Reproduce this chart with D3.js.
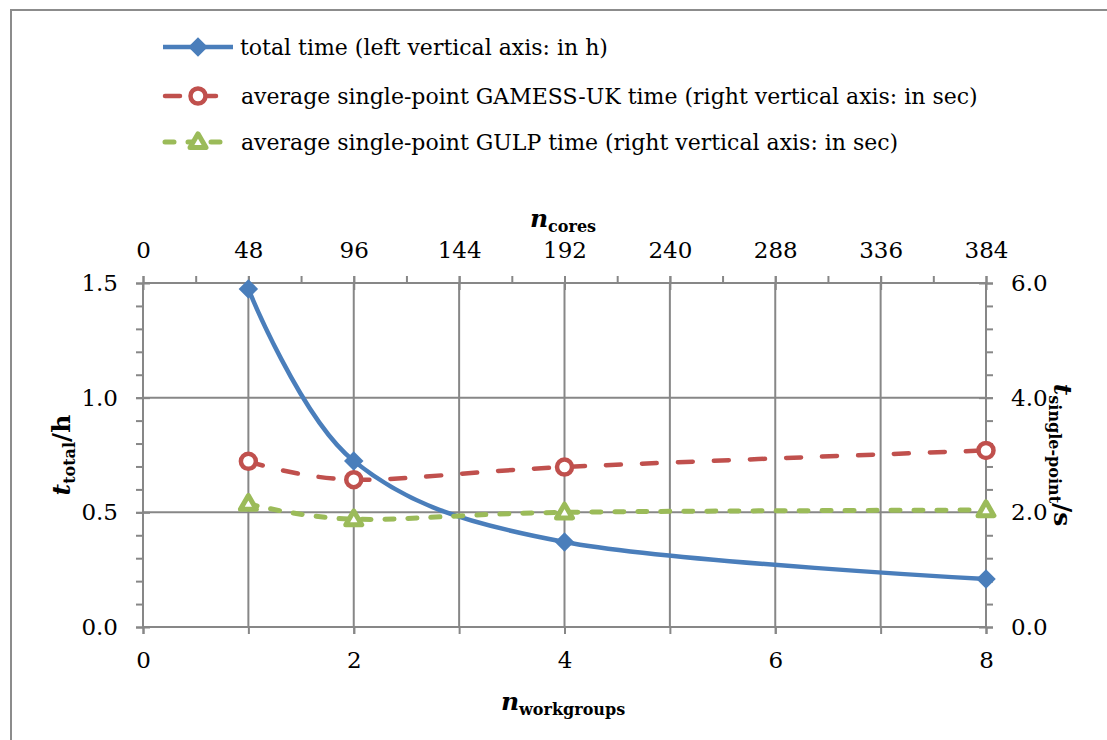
<!DOCTYPE html>
<html><head><meta charset="utf-8">
<script src="https://cdn.jsdelivr.net/npm/d3@7"></script>
<style>
body{margin:0;background:#fff;}
svg{display:block;font-family:"DejaVu Serif",serif;}
</style></head>
<body><svg id="c" width="1107" height="740"></svg>
<script>
// ---- data ----
const workgroups = [1, 2, 4, 8];
const totalTime = [1.474, 0.724, 0.371, 0.209];      // h (left axis)
const gamessTime = [2.89, 2.57, 2.79, 3.08];          // s (right axis)
const gulpTime = [2.15, 1.88, 2.00, 2.04];            // s (right axis)
const bottomTicks = [0, 2, 4, 6, 8];
const topTicks = [0, 48, 96, 144, 192, 240, 288, 336, 384];
const leftTicks = [0.0, 0.5, 1.0, 1.5];
const rightTicks = [0.0, 2.0, 4.0, 6.0];
const legendLabels = [
  "total time (left vertical axis: in h)",
  "average single-point GAMESS-UK time (right vertical axis: in sec)",
  "average single-point GULP time (right vertical axis: in sec)"
];

const svg = d3.select("#c");
const L = 143, R = 986, T = 283, B = 627;
const grid = "#878787";
const cBlue = "#4a7ebb", cRed = "#c0504d", cGreen = "#9bbb59";

const x = d3.scaleLinear().domain([0, 8]).range([L, R]);
const xTop = d3.scaleLinear().domain([0, 384]).range([L, R]);
const yL = d3.scaleLinear().domain([0, 1.5]).range([B, T]);
const yR = d3.scaleLinear().domain([0, 6]).range([B, T]);

// border
svg.append("path").attr("d", `M11,740 V10 H1107`).attr("fill","none").attr("stroke","#8c8c8c").attr("stroke-width",2);

// gridlines
const g = svg.append("g");
g.selectAll(".vg").data(d3.range(0, 9)).join("line")
  .attr("x1", d=>x(d)).attr("x2", d=>x(d)).attr("y1", T).attr("y2", B)
  .attr("stroke", grid).attr("stroke-width", 2);
g.selectAll(".hg").data(leftTicks).join("line")
  .attr("x1", L).attr("x2", R).attr("y1", d=>yL(d)).attr("y2", d=>yL(d))
  .attr("stroke", grid).attr("stroke-width", 2);

function styleAxis(sel){
  sel.select(".domain").remove();
  sel.selectAll(".tick line").attr("stroke", grid).attr("stroke-width", 2);
  sel.selectAll("text").attr("font-family","DejaVu Serif").attr("font-size",23).attr("fill","#000");
}
// left
svg.append("g").attr("transform",`translate(${L},0)`)
  .call(d3.axisLeft(yL).tickValues(d3.range(0,16).map(i=>i/10)).tickSize(7).tickFormat(""))
  .call(styleAxis);
svg.append("g").attr("transform",`translate(${L},0)`)
  .call(d3.axisLeft(yL).tickValues(leftTicks).tickSizeInner(7).tickSizeOuter(0).tickPadding(18).tickFormat(d3.format(".1f")))
  .call(styleAxis)
  .call(s=>s.selectAll(".tick line").attr("x2",-7).attr("x1",7));
// right
svg.append("g").attr("transform",`translate(${R},0)`)
  .call(d3.axisRight(yR).tickValues(d3.range(0,16).map(i=>i*0.4)).tickSize(7).tickFormat(""))
  .call(styleAxis);
svg.append("g").attr("transform",`translate(${R},0)`)
  .call(d3.axisRight(yR).tickValues(rightTicks).tickSizeInner(7).tickSizeOuter(0).tickPadding(18).tickFormat(d3.format(".1f")))
  .call(styleAxis)
  .call(s=>s.selectAll(".tick line").attr("x2",7).attr("x1",-7));
// bottom
svg.append("g").attr("transform",`translate(0,${B})`)
  .call(d3.axisBottom(x).tickValues(d3.range(0,9)).tickSize(7).tickFormat(""))
  .call(styleAxis);
svg.append("g").attr("transform",`translate(0,${B})`)
  .call(d3.axisBottom(x).tickValues(bottomTicks).tickSize(7).tickPadding(18).tickFormat(d3.format("d")))
  .call(styleAxis);
// top
svg.append("g").attr("transform",`translate(0,${T})`)
  .call(d3.axisTop(xTop).tickValues(d3.range(0,17).map(i=>i*24)).tickSize(7).tickFormat(""))
  .call(styleAxis);
svg.append("g").attr("transform",`translate(0,${T})`)
  .call(d3.axisTop(xTop).tickValues(topTicks).tickSize(7).tickPadding(18).tickFormat(d3.format("d")))
  .call(styleAxis)
  .call(s=>s.selectAll(".tick line").attr("y2",-7).attr("y1",7));

// axis titles
function title(tx, ty, rot, main, sub, tail){
  const t = svg.append("text").attr("transform",`translate(${tx},${ty}) rotate(${rot})`)
    .attr("text-anchor","middle").attr("font-family","DejaVu Serif").attr("font-weight","bold").attr("fill","#000");
  t.append("tspan").attr("font-style","italic").attr("font-size",25).text(main);
  t.append("tspan").attr("font-size",16).attr("dy",5).text(sub);
  if (tail) t.append("tspan").attr("font-size",25).attr("dy",-5).text(tail);
  return t;
}
title(563, 227, 0, "n", "cores");
title(563, 710, 0, "n", "workgroups");
title(70, 455, -90, "t", "total", "/h");
title(1054, 455, 90, "t", "single-point", "/s");

// series
const curve = d3.curveCardinal.tension(0);
function series(vals, yScale, color, width, dash){
  const pts = workgroups.map((w,i)=>[x(w), yScale(vals[i])]);
  svg.append("path").attr("d", d3.line().curve(curve)(pts))
    .attr("fill","none").attr("stroke",color).attr("stroke-width",width)
    .attr("stroke-dasharray", dash).attr("stroke-linecap", dash ? "round" : "butt");
  return pts;
}
function diamond(gSel, cx, cy){ gSel.append("path").attr("d", d3.symbol(d3.symbolSquare, 190)()).attr("transform",`translate(${cx},${cy}) rotate(45)`).attr("fill",cBlue); }
function circle(gSel, cx, cy){ gSel.append("circle").attr("cx",cx).attr("cy",cy).attr("r",7.5).attr("fill","#fff").attr("stroke",cRed).attr("stroke-width",4.5); }
function tri(gSel, cx, cy){ gSel.append("path").attr("d", d3.symbol(d3.symbolTriangle, 110)()).attr("transform",`translate(${cx},${cy+1})`).attr("fill","#fff").attr("stroke",cGreen).attr("stroke-width",5).attr("stroke-linejoin","round"); }

const pB = series(totalTime, yL, cBlue, 4.5, null);
pB.forEach(p=>diamond(svg, p[0], p[1]));
const pR = series(gamessTime, yR, cRed, 4.5, "15,21");
pR.forEach(p=>circle(svg, p[0], p[1]));
const pG = series(gulpTime, yR, cGreen, 5, "9,14");
pG.forEach(p=>tri(svg, p[0], p[1]));

// legend
const legY = [47, 96, 142];
const lg = svg.append("g");
lg.append("line").attr("x1",163).attr("x2",233).attr("y1",legY[0]).attr("y2",legY[0]).attr("stroke",cBlue).attr("stroke-width",4.5);
diamond(lg, 198, legY[0]);
lg.append("line").attr("x1",165).attr("x2",231).attr("y1",legY[1]).attr("y2",legY[1]).attr("stroke",cRed).attr("stroke-width",4.5).attr("stroke-dasharray","15,21").attr("stroke-linecap","round");
circle(lg, 198, legY[1]);
lg.append("line").attr("x1",165).attr("x2",233).attr("y1",legY[2]).attr("y2",legY[2]).attr("stroke",cGreen).attr("stroke-width",5).attr("stroke-dasharray","9,14").attr("stroke-linecap","round");
tri(lg, 198, legY[2]);
lg.selectAll(".lt").data(legendLabels).join("text")
  .attr("x", (d,i)=> i===0 ? 240 : 241).attr("y",(d,i)=>legY[i]+8)
  .attr("font-family","DejaVu Serif").attr("font-size",22).attr("fill","#000").text(d=>d);
</script></body></html>
